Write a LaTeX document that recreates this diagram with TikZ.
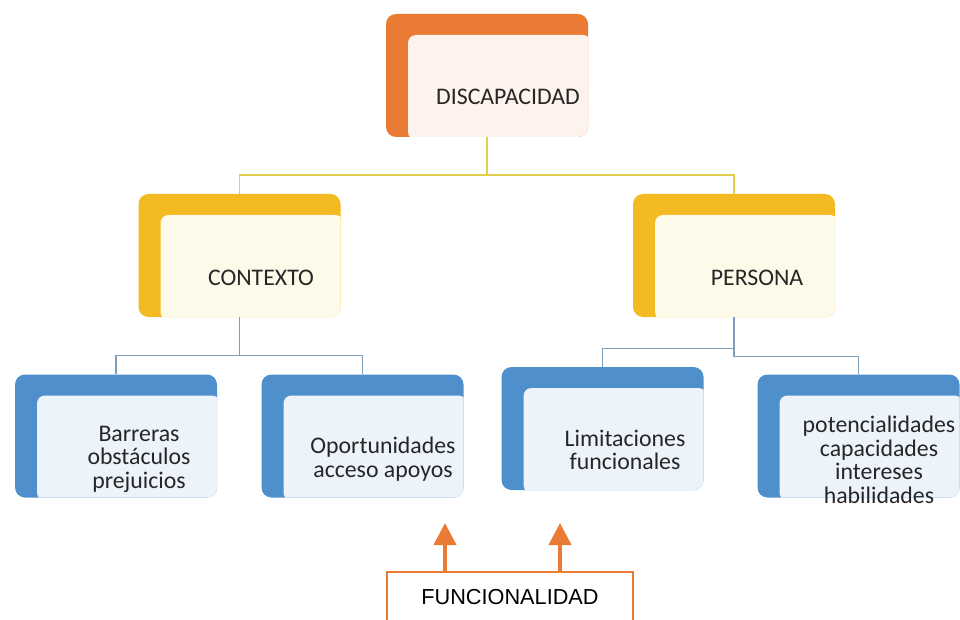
\documentclass[tikz,border=0pt]{standalone}
\usepackage{fontspec}
\setmainfont{Carlito}
\newfontfamily\arialfont{Liberation Sans}
\usetikzlibrary{arrows.meta}

\definecolor{discorange}{HTML}{E97B35}
\definecolor{discpeach}{HTML}{FDF3EC}
\definecolor{ctxyellow}{HTML}{F3BA22}
\definecolor{ctxcream}{HTML}{FEFAEA}
\definecolor{cardblue}{HTML}{4F8FCC}
\definecolor{cardpale}{HTML}{ECF3FA}
\definecolor{yline}{HTML}{E4CF4C}
\definecolor{bline}{HTML}{7E9FBE}

\tikzset{
  card/.style 2 args={fill=#1, rounded corners=10pt, inner sep=0pt,
    minimum width=202pt, minimum height=123pt,
    path picture={\fill[#2, rounded corners=8pt]
      ([shift={(22pt,-21pt)}]path picture bounding box.north west)
      rectangle ([shift={(3pt,-3pt)}]path picture bounding box.south east);}},
  cardtext/.style={align=center, font=\fontsize{23.8}{23.5}\selectfont, text=black!85},
  yconn/.style={draw=yline, line width=1.4pt},
  bconn/.style={draw=bline, line width=1.4pt},
  uparrow/.style={draw=discorange, line width=4pt,
    -{Triangle[length=22pt, width=22pt]}},
}

\begin{document}
\begin{tikzpicture}[x=1pt, y=-1pt]
  \useasboundingbox (0,0) rectangle (960,620);
  % cards
  \node[card={discorange}{discpeach}] (disc) at (487,75.5) {};
  \node[card={ctxyellow}{ctxcream}] (ctx) at (239.5,255.5) {};
  \node[card={ctxyellow}{ctxcream}] (pers) at (734,255.5) {};
  \node[card={cardblue}{cardpale}] (bar) at (116,436) {};
  \node[card={cardblue}{cardpale}] (opp) at (362.5,436) {};
  \node[card={cardblue}{cardpale}] (lim) at (602.5,428.5) {};
  \node[card={cardblue}{cardpale}] (pot) at (858.5,436) {};
  % labels
  \node[cardtext] (disc label) at (508,97) {DISCAPACIDAD};
  \node[cardtext] (ctx label) at (261,278) {CONTEXTO};
  \node[cardtext] (pers label) at (757,278) {PERSONA};
  \node[cardtext] (bar label) at (139,459) {Barreras\\obstáculos\\prejuicios};
  \node[cardtext] (opp label) at (383,459) {Oportunidades\\acceso apoyos};
  \node[cardtext] (lim label) at (625,450) {Limitaciones\\funcionales};
  \node[cardtext] (pot label) at (879,460) {potencialidades\\capacidades\\intereses\\habilidades};
  % links
  \draw[yconn] (disc.south) -- ++(0,38) coordinate (disc fork);
  \draw[yconn] (disc fork) -| (ctx.north);
  \draw[yconn] (disc fork) -| (pers.north);
  \draw[bconn] (ctx.south) -- ++(0,38) coordinate (ctx fork);
  \draw[bconn] (ctx fork) -| (bar.north);
  \draw[bconn] (ctx fork) -| (opp.north);
  \draw[bconn] (pers.south) -- ++(0,31) coordinate (pers fork);
  \draw[bconn] (pers fork) -| (lim.north);
  \draw[bconn] (pers fork) -- ++(0,8) -| (pot.north);
  % funcionalidad
  \node[draw=discorange, line width=2pt, anchor=north, minimum width=246pt,
    minimum height=50pt, font=\arialfont\fontsize{21.7}{24}\selectfont] (func) at (510,571) {FUNCIONALIDAD};
  \coordinate (opp tip) at (445,523);
  \coordinate (lim tip) at (560,523);
  \draw[uparrow] (func.north -| opp tip) -- (opp tip);
  \draw[uparrow] (func.north -| lim tip) -- (lim tip);
\end{tikzpicture}
\end{document}
